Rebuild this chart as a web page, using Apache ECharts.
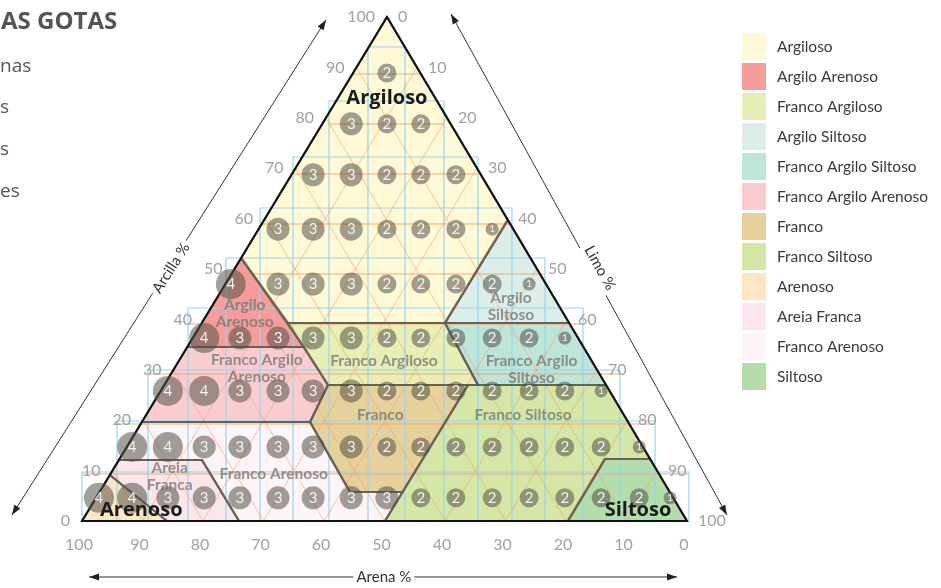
<!DOCTYPE html>
<html>
<head>
<meta charset="utf-8">
<script src="https://cdn.jsdelivr.net/npm/echarts@6/dist/echarts.min.js"></script>
<style>
html,body{margin:0;padding:0;background:#fff;}
#c{width:941px;height:588px;}
</style>
</head>
<body>
<div id="c"></div>
<script>
// ---------------- DATA ----------------
// Texture classes (legend order) and their fills
const regionNames = ['Argiloso','Argilo Arenoso','Franco Argiloso','Argilo Siltoso','Franco Argilo Siltoso','Franco Argilo Arenoso','Franco','Franco Siltoso','Arenoso','Areia Franca','Franco Arenoso','Siltoso'];
const regionColors = ['#FFF9D7','#F59C9C','#E8EFB6','#DCEEE9','#BEE5D9','#F9CDD0','#E6D09C','#D4E7A7','#FDE6C4','#FCE5EB','#FFF4F7','#B3DEAB'];
// Polygon vertices: [position along base (0 = 100% sand corner, 100 = 100% silt corner), clay %]
const regionPolygons = [
  [[50.41,100],[26.30,52.18],[34.05,39.29],[60.0,39.29],[70.39,59.72]],
  [[26.30,52.18],[17.40,34.52],[36.7,34.52]],
  [[34.05,39.29],[60.0,39.29],[65.45,26.98],[40.66,26.98]],
  [[60.0,39.29],[70.39,59.72],[80.52,39.29]],
  [[60.0,39.29],[80.52,39.29],[86.62,26.98],[65.45,26.98]],
  [[17.40,34.52],[36.7,34.52],[40.66,26.98],[37.69,19.64],[9.90,19.64]],
  [[40.66,26.98],[63.80,26.98],[52.98,5.75],[44.30,5.75],[37.69,19.64]],
  [[63.80,26.98],[86.62,26.98],[93.90,12.3],[86.45,12.3],[80.33,0],[50.08,0]],
  [[0,0],[4.60,9.13],[14.05,0]],
  [[6.10,12.10],[19.83,12.10],[25.95,0],[14.05,0],[4.60,9.13]],
  [[9.90,19.64],[37.69,19.64],[44.30,5.75],[52.98,5.75],[50.08,0],[25.95,0],[19.83,12.10],[6.10,12.10]],
  [[86.45,12.3],[93.90,12.3],[100,0],[80.33,0]]
];
// Drop bubbles: column positions along the base, row clay levels, values per row
const bubbleColumns = [2.8, 8.3, 14.2, 20.2, 26.1, 32.4, 38.2, 44.5, 50.4, 56.0, 61.8, 67.8, 73.9, 79.8, 85.8, 92.1, 97.2];
const bubbleRowClay = [88.9, 78.8, 68.7, 57.9, 47.0, 36.3, 25.8, 14.7, 4.6];
const bubbleRowStart = [8, 7, 6, 5, 4, 3, 2, 1, 0];
const bubbleRowFirstPos = [null, null, null, null, 24.6, null, null, null, null];
const bubbleRowValues = [
  [2],
  [3,2,2],
  [3,3,2,2,2],
  [3,3,3,2,2,2,1],
  [4,3,3,3,2,2,2,2,1],
  [4,3,3,3,3,2,2,2,2,2,1],
  [4,4,3,3,3,3,2,2,2,2,2,2,1],
  [4,4,3,3,3,3,3,2,2,2,2,2,2,2,1],
  [4,4,3,3,3,3,3,3,3,2,2,2,2,2,2,2,1]
];
// Axis tick labels
const clayTicks = [0,10,20,30,40,50,60,70,80,90,100];
const siltTicks = [100,90,80,70,60,50,40,30,20,10,0];   // at clay 0..100
const sandTicks = [100,90,80,70,60,50,40,30,20,10,0];   // along base 0..100
// Region captions
const regionLabels = [
  {t:'Argilo\nArenoso', p:[26.9,41.1]},
  {t:'Franco Argilo\nArenoso', p:[28.9,30.2]},
  {t:'Franco Argiloso', p:[49.9,31.7]},
  {t:'Argilo\nSiltoso', p:[70.9,42.5]},
  {t:'Franco Argilo\nSiltoso', p:[74.3,30.1]},
  {t:'Franco', p:[49.3,21.0]},
  {t:'Franco Siltoso', p:[72.9,21.0]},
  {t:'Areia\nFranca', p:[14.5,8.8]},
  {t:'Franco Arenoso', p:[31.7,9.3]}
];
const cornerLabels = [
  {t:'Argiloso', p:[50.4,83.9]},
  {t:'Arenoso', p:[9.8,2.2]},
  {t:'Siltoso', p:[91.9,2.2]}
];
const listItems = ['nas','s','s','es'];

// ---------------- LAYOUT (decoration geometry, in plot units) ----------------
const APEX_X = 50.41;
const boxLeft  = [47.27, 40.83, 34.88, 29.42, 23.80, 17.52, 10.91, 5.79, 0];
const boxRight = [53.39, 59.83, 65.45, 71.07, 76.53, 82.81, 88.93, 94.71, 100.33];
const boxTop   = [94.05, 83.33, 72.22, 62.10, 52.18, 42.26, 29.96, 19.84, 9.72];
const orangeClay  = [88.69, 78.77, 68.85, 58.93, 49.01, 39.09, 29.17, 19.25, 9.33];
const orangeLeft  = [44.6, 40.83, 34.88, 29.42, 23.80, 17.52, 10.91, 5.79, 0.1];
const orangeRight = [55.9, 59.83, 65.45, 71.07, 76.53, 82.81, 88.93, 94.71, 100.2];
const arrows = [
  {a:[-11.57,1.19], b:[40.33,99.40], t:'Arcilla %', tp:[14.7,50.2]},
  {a:[60.99,100.6], b:[106.6,1.19], t:'Limo %', tp:[85.6,50.2]},
  {a:[1.16,-11.11], b:[98.35,-11.11], t:'Arena %', tp:[49.9,-11.11]}
];

const FONT = 'Lato, "Open Sans", sans-serif';
const BLUE = '#97d6f1';
const ORANGE = 'rgba(243,160,95,0.6)';
const sizeFor = {1:13, 2:19, 3:23, 4:30};

const leftEdgeX = c => APEX_X * c / 100;
const rightEdgeX = c => 100 - (100 - APEX_X) * c / 100;

function txt(x, y, text, align, font, fill, extra) {
  const s = Object.assign({text, x:0, y:0, font, fill, align, textAlign:align, verticalAlign:'middle', textVerticalAlign:'middle'}, extra || {});
  return {type:'text', x, y, style:s, z2:10};
}

// ---------------- SERIES ----------------
const fillSeries = regionNames.map((name, i) => ({
  type:'custom', name, coordinateSystem:'cartesian2d', z:1, silent:true,
  itemStyle:{color: regionColors[i]},
  data:[[0,0]],
  renderItem:(params, api) => ({
    type:'polygon',
    shape:{points: regionPolygons[i].map(p => api.coord(p))},
    style:{fill: regionColors[i], stroke:'none'}
  })
}));

const gridSeries = {
  type:'custom', coordinateSystem:'cartesian2d', z:2, silent:true, data:[[0,0]],
  renderItem:(params, api) => {
    const ch = [];
    for (let i = 0; i < boxTop.length; i++) {
      const a = api.coord([boxLeft[i], boxTop[i]]);
      const b = api.coord([boxRight[i], 0]);
      ch.push({type:'rect', shape:{x:a[0], y:a[1], width:b[0]-a[0], height:b[1]-a[1]},
        style:{fill:'none', stroke:BLUE, lineWidth:1.2}});
    }
    for (let i = 0; i < orangeClay.length; i++) {
      const a = api.coord([orangeLeft[i], orangeClay[i]]);
      const b = api.coord([orangeRight[i], orangeClay[i]]);
      ch.push({type:'line', shape:{x1:a[0], y1:a[1], x2:b[0], y2:b[1]}, style:{stroke:ORANGE, lineWidth:1.3}});
    }
    for (let x0 = 10; x0 <= 90; x0 += 10) {
      const p0 = api.coord([x0, 0]);
      const yr = 100 - x0;
      const p1 = api.coord([x0 + APEX_X / 100 * yr, yr]);
      const yl = x0;
      const p2 = api.coord([x0 - (100 - APEX_X) / 100 * yl, yl]);
      ch.push({type:'line', shape:{x1:p0[0], y1:p0[1], x2:p1[0], y2:p1[1]}, style:{stroke:ORANGE, lineWidth:1}});
      ch.push({type:'line', shape:{x1:p0[0], y1:p0[1], x2:p2[0], y2:p2[1]}, style:{stroke:ORANGE, lineWidth:1}});
    }
    return {type:'group', children:ch};
  }
};

const boundarySeries = {
  type:'custom', coordinateSystem:'cartesian2d', z:3, silent:true, data:[[0,0]],
  renderItem:(params, api) => {
    const ch = regionPolygons.map(poly => ({
      type:'polygon', shape:{points: poly.map(p => api.coord(p))},
      style:{fill:'none', stroke:'rgba(100,94,82,0.85)', lineWidth:2.2, lineJoin:'round'}
    }));
    ch.push({type:'polygon', shape:{points:[api.coord([0,0]), api.coord([100,0]), api.coord([APEX_X,100])]},
      style:{fill:'none', stroke:'#111', lineWidth:2, lineJoin:'miter'}});
    return {type:'group', children:ch};
  }
};

const bubbleData = [];
bubbleRowValues.forEach((vals, r) => {
  vals.forEach((v, k) => {
    let x = bubbleColumns[bubbleRowStart[r] + k];
    if (k === 0 && bubbleRowFirstPos[r] != null) x = bubbleRowFirstPos[r];
    bubbleData.push({value:[x, bubbleRowClay[r], v], label:{fontSize: v === 1 ? 10 : 15}});
  });
});

const bubbleSeries = {
  type:'scatter', z:4, silent:true, data:bubbleData,
  symbolSize: d => sizeFor[d[2]],
  itemStyle:{color:'rgba(82,80,70,0.54)', opacity:1},
  label:{show:true, position:'inside', formatter: p => String(p.value[2]), color:'#f2f2f2', fontFamily:FONT, fontSize:15},
  emphasis:{disabled:true}
};

const textSeries = {
  type:'custom', coordinateSystem:'cartesian2d', z:6, silent:true, data:[[0,0]],
  renderItem:(params, api) => {
    const ch = [];
    const tickFont = '16px ' + FONT;
    const tickColor = '#a2a2a2';
    clayTicks.forEach(c => {
      const p = api.coord([leftEdgeX(c), c]);
      ch.push(txt(p[0] - 12, p[1], String(c), 'right', tickFont, tickColor));
    });
    siltTicks.forEach((s, i) => {
      const c = clayTicks[i];
      const p = api.coord([rightEdgeX(c), c]);
      ch.push(txt(p[0] + 11, p[1], String(s), 'left', tickFont, tickColor));
    });
    sandTicks.forEach((s, i) => {
      const p = api.coord([i * 10, 0]);
      ch.push(txt(p[0] - 3, p[1] + 24, String(s), 'center', tickFont, tickColor));
    });
    // arrows with titles
    arrows.forEach(ar => {
      const a = api.coord(ar.a), b = api.coord(ar.b), t = api.coord(ar.tp);
      ch.push({type:'line', shape:{x1:a[0], y1:a[1], x2:b[0], y2:b[1]}, style:{stroke:'#333', lineWidth:1}});
      [[a, b], [b, a]].forEach(([tip, from]) => {
        const dx = tip[0] - from[0], dy = tip[1] - from[1];
        const L = Math.hypot(dx, dy), ux = dx / L, uy = dy / L;
        const len = 10, w = 3.5;
        const bx = tip[0] - ux * len, by = tip[1] - uy * len;
        ch.push({type:'polygon', shape:{points:[[tip[0], tip[1]], [bx - uy * w, by + ux * w], [bx + uy * w, by - ux * w]]},
          style:{fill:'#222'}});
      });
      let rot = Math.atan2(-(b[1] - a[1]), b[0] - a[0]);
      if (rot > Math.PI / 2) rot -= Math.PI;
      if (rot < -Math.PI / 2) rot += Math.PI;
      const el = txt(0, 0, ar.t, 'center', '15px ' + FONT, '#333', {backgroundColor:'#fff', padding:[2,3], textBackgroundColor:'#fff', textPadding:[2,3]});
      el.x = t[0]; el.y = t[1]; el.rotation = rot;
      ch.push(el);
    });
    regionLabels.forEach(r => {
      const p = api.coord(r.p);
      ch.push(txt(p[0], p[1], r.t, 'center', 'bold 15.5px ' + FONT, 'rgba(118,118,118,0.78)', {lineHeight:17}));
    });
    cornerLabels.forEach(r => {
      const p = api.coord(r.p);
      ch.push(txt(p[0], p[1], r.t, 'center', 'bold 20px "Open Sans", sans-serif', '#1b1b1b'));
    });
    return {type:'group', children:ch};
  }
};

const chart = echarts.init(document.getElementById('c'), null, {renderer:'canvas'});
chart.setOption({
  backgroundColor:'#fff',
  animation:false,
  title:{text:'AS GOTAS', left:1, top:10, padding:0,
    textStyle:{fontFamily:'"Open Sans", sans-serif', fontWeight:'bold', fontSize:24, color:'#555'}},
  graphic: listItems.map((t, i) => ({
    type:'text', left:0, top:[57, 98, 140, 182][i],
    style:{text:t, font:'19px "Open Sans", sans-serif', fill:'#555'}
  })),
  legend:{
    orient:'vertical', left:742, top:33, padding:0, itemWidth:24, itemHeight:27, itemGap:3,
    icon:'rect', selectedMode:false,
    textStyle:{fontFamily:FONT, fontSize:15.5, color:'#3a3a3a', padding:[0,0,0,6]},
    data: regionNames.map((n, i) => ({name:n, itemStyle:{color:regionColors[i]}}))
  },
  grid:{left:82, top:17, width:605, height:504},
  xAxis:{type:'value', min:0, max:100, show:false},
  yAxis:{type:'value', min:0, max:100, show:false},
  series:[...fillSeries, gridSeries, boundarySeries, bubbleSeries, textSeries]
});
</script>
</body>
</html>
